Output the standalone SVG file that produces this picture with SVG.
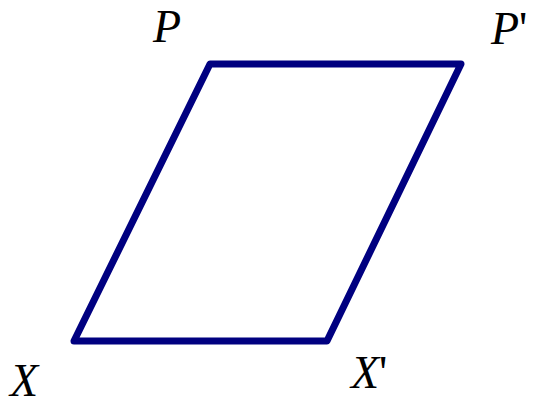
<svg xmlns="http://www.w3.org/2000/svg" width="534" height="404" viewBox="0 0 534 404">
<style>
.lbl{font-family:"Liberation Serif","Times New Roman",serif;font-style:italic;font-size:46px;fill:#000}
.pr{font-style:normal}
.edge{fill:none;stroke:#000080;stroke-width:7;stroke-linejoin:round;stroke-linecap:round}
</style>
<rect width="534" height="404" fill="#fff"/>
<g id="connectors">
<path class="edge" d="M210,64 L461,64 L327,341 L74,341 Z"/>
</g>
<g id="P"><text class="lbl" x="153" y="42">P</text></g>
<g id="Pp"><text class="lbl" x="491" y="44">P<tspan class="pr">'</tspan></text></g>
<g id="X"><text class="lbl" x="10" y="396">X</text></g>
<g id="Xp"><text class="lbl" x="351" y="388">X<tspan class="pr">'</tspan></text></g>
</svg>
